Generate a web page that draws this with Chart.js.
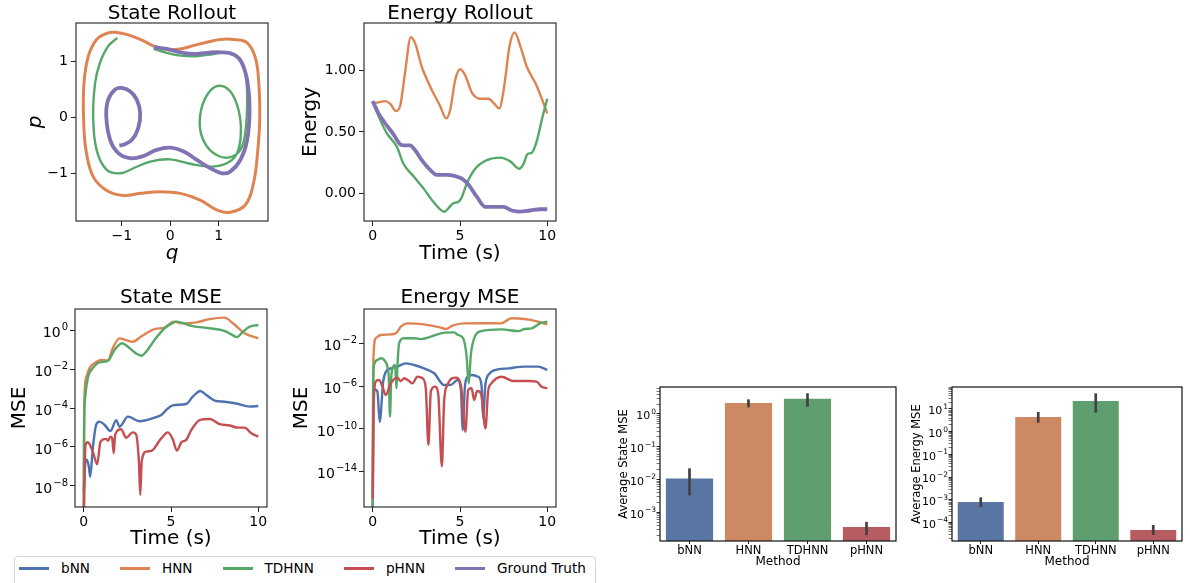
<!DOCTYPE html>
<html>
<head>
<meta charset="utf-8">
<script src="https://cdn.jsdelivr.net/npm/chart.js@4.4.1/dist/chart.umd.min.js"></script>
<style>
  body { margin: 0; width: 1190px; height: 583px; background: #fff; position: relative; overflow: hidden; font-family: "DejaVu Sans", sans-serif; }
  canvas { position: absolute; }
  #legend { position: absolute; left: 14px; top: 556px; width: 582px; height: 40px; box-sizing: border-box;
            border: 1px solid #d4d4d4; border-radius: 4px; background: rgba(255,255,255,0.8);
            display: flex; gap: 30px; padding: 3px 0 0 4px; font-size: 13.6px; color: #000; }
  .legendItem { display: flex; align-items: center; height: 17px; line-height: 17px; white-space: nowrap; }
  .legendLine { width: 30px; height: 2.2px; margin-right: 12px; }
</style>
</head>
<body>
<canvas id="stateRollout"></canvas>
<canvas id="energyRollout"></canvas>
<canvas id="stateMse"></canvas>
<canvas id="energyMse"></canvas>
<canvas id="avgStateMse"></canvas>
<canvas id="avgEnergyMse"></canvas>
<div id="legend"></div>
<script>
// ---- data ----
const methods = ["bNN", "HNN", "TDHNN", "pHNN"];
const legendLabels = ["bNN", "HNN", "TDHNN", "pHNN", "Ground Truth"];

// State Rollout (q, p)
const rollHnnQ = [-0.34,-0.07,0.21,0.48,0.76,1.03,1.31,1.59,1.76,1.83,1.85,1.81,1.72,1.55,1.24,0.97,0.62,0.21,-0.21,-0.62,-0.97,-1.31,-1.59,-1.74,-1.79,-1.78,-1.69,-1.52,-1.31,-1.14,-0.90,-0.62,-0.34];
const rollHnnP = [1.28,1.22,1.23,1.29,1.35,1.40,1.40,1.34,1.07,0.62,0.02,-0.58,-1.18,-1.57,-1.70,-1.66,-1.48,-1.36,-1.33,-1.36,-1.40,-1.31,-1.06,-0.58,0.02,0.62,1.10,1.40,1.51,1.53,1.49,1.40,1.28];
const rollTdhnnQ = [-0.34,-0.07,0.21,0.55,0.90,1.17,1.41,1.55,1.59,1.55,1.45,1.24,1.00,0.76,0.62,0.64,0.79,1.00,1.24,1.41,1.46,1.38,1.17,0.83,0.41,0.00,-0.41,-0.76,-1.03,-1.31,-1.52,-1.59,-1.55,-1.45,-1.28,-1.09];
const rollTdhnnP = [1.23,1.16,1.11,1.10,1.14,1.17,1.07,0.80,0.32,-0.28,-0.58,-0.71,-0.69,-0.52,-0.22,0.14,0.44,0.57,0.47,0.14,-0.28,-0.64,-0.82,-0.88,-0.83,-0.75,-0.79,-0.91,-1.00,-0.94,-0.58,0.02,0.62,0.98,1.28,1.43];
const rollTruthQ = [-0.34,-0.07,0.21,0.48,0.76,1.03,1.31,1.48,1.60,1.64,1.59,1.45,1.24,1.07,0.83,0.55,0.28,0.00,-0.28,-0.55,-0.83,-1.07,-1.24,-1.32,-1.28,-1.14,-1.00,-0.83,-0.69,-0.62,-0.66,-0.79,-0.97,-1.05];
const rollTruthP = [1.26,1.23,1.17,1.14,1.16,1.17,1.13,0.98,0.62,0.14,-0.40,-0.76,-0.97,-1.00,-0.91,-0.76,-0.61,-0.54,-0.58,-0.69,-0.73,-0.64,-0.40,0.02,0.32,0.50,0.53,0.47,0.32,0.08,-0.19,-0.40,-0.49,-0.50];

// Energy Rollout
const energyHnnT = [0,0.33,0.71,0.99,1.34,1.57,1.85,2.18,2.43,2.81,3.29,3.86,4.21,4.44,4.72,5.01,5.30,5.68,6.16,6.63,6.96,7.25,7.50,7.84,8.13,8.45,8.83,9.41,10];
const energyHnnE = [0.73,0.74,0.75,0.73,0.67,0.71,0.98,1.27,1.22,1.03,0.87,0.71,0.61,0.68,0.92,1.01,0.96,0.82,0.77,0.77,0.73,0.69,0.84,1.20,1.31,1.20,1.03,0.87,0.65];
const energyTdhnnT = [0,0.33,0.80,1.38,1.76,2.33,2.91,3.48,4.11,4.34,4.63,4.91,5.11,5.39,5.87,6.54,7.30,7.88,8.39,8.64,8.87,9.12,9.41,9.69,10];
const energyTdhnnE = [0.75,0.63,0.49,0.38,0.24,0.14,0.04,-0.07,-0.15,-0.12,-0.08,-0.07,-0.03,0.08,0.20,0.27,0.29,0.26,0.20,0.24,0.32,0.33,0.43,0.60,0.77];
const energyTruthT = [0,0.33,0.71,1.19,1.57,1.85,2.14,2.43,2.81,3.29,3.67,4.24,4.72,5.11,5.49,5.97,6.44,7.02,7.50,7.97,8.45,9.02,9.60,10];
const energyTruthE = [0.75,0.65,0.57,0.48,0.40,0.39,0.39,0.35,0.27,0.19,0.15,0.15,0.14,0.12,0.07,-0.03,-0.11,-0.11,-0.11,-0.14,-0.15,-0.14,-0.13,-0.13];

// State MSE
const smseBnnT = [0,0.1,0.18,0.29,0.37,0.52,0.71,0.9,1.2,1.53,1.86,2.05,2.53,3.2,4.06,4.44,4.82,5.16,5.87,6.25,6.68,7.02,7.5,8.07,8.74,9.51,10];
const smseBnnY = [5e-9,1.8e-7,2.2e-7,1.0e-7,3.0e-8,8.5e-7,1.35e-5,2.0e-5,1.35e-5,6.6e-6,2.4e-5,1.1e-5,3.6e-5,2.1e-5,3.2e-5,4.4e-5,9.5e-5,1.4e-4,1.6e-4,3.8e-4,7.4e-4,4.6e-4,2.4e-4,2.1e-4,1.7e-4,1.17e-4,1.26e-4];
const smseHnnT = [0,0.03,0.13,0.33,0.61,1.0,1.38,1.66,2.05,2.43,2.81,3.29,4.06,4.63,5.16,5.68,6.45,7.21,8.07,8.55,9.22,10];
const smseHnnY = [1e-10,1.4e-4,3.3e-3,0.011,0.0195,0.029,0.027,0.115,0.37,0.30,0.25,0.46,1.12,1.32,2.7,2.19,2.45,3.6,4.3,2.2,0.68,0.37];
const smseTdhnnT = [0,0.02,0.08,0.23,0.52,0.9,1.38,1.76,2.2,2.53,3.0,3.29,3.58,4.06,4.63,5.16,5.3,6.25,7.21,8.07,8.46,8.78,9.12,9.51,10];
const smseTdhnnY = [1e-10,6.3e-6,3.2e-4,3.3e-3,0.011,0.022,0.026,0.093,0.21,0.14,0.063,0.048,0.078,0.31,1.23,2.45,2.7,1.58,1.23,0.89,0.6,0.43,0.81,1.48,1.8];
const smsePhnnT = [0,0.1,0.23,0.52,0.77,0.96,1.28,1.4,1.53,1.63,1.72,1.8,2.14,2.43,2.81,3.0,3.16,3.24,3.32,3.58,3.87,4.44,4.82,5.1,5.34,5.59,5.87,6.16,6.64,7.21,7.79,8.36,8.84,9.22,9.6,10];
const smsePhnnY = [1e-10,1.26e-6,1.74e-6,5.8e-7,1.3e-7,1.86e-6,2.6e-6,2.1e-6,3.4e-6,2.8e-6,4.8e-7,4.2e-6,8.1e-6,3.0e-6,5.6e-6,4.5e-6,1.8e-7,3.5e-9,1.8e-7,5.8e-7,6.3e-7,2.75e-6,5.6e-6,2.5e-6,6.5e-7,1.74e-6,2.3e-6,7.4e-6,2.4e-5,2.75e-5,1.5e-5,1.26e-5,9.8e-6,9.8e-6,5.0e-6,3.4e-6];

// Energy MSE
const emseBnnT = [0,0.05,0.17,0.27,0.4,0.6,0.75,1.03,1.41,1.89,2.36,2.94,3.52,4.09,4.47,4.86,5.05,5.16,5.27,5.37,5.66,6.04,6.23,6.33,6.45,6.71,7.0,7.76,8.72,9.48,10];
const emseBnnY = [1e-18,6.3e-7,4.4e-7,3e-7,4.7e-10,2.6e-6,2.2e-5,4.6e-5,6.6e-5,1.35e-4,9.5e-5,4.6e-5,1.6e-5,1.26e-6,1.3e-6,3.7e-6,5e-7,8e-11,5e-7,5.4e-6,1.1e-5,7.6e-6,1.26e-6,1e-9,1.26e-6,1.6e-5,3.2e-5,4.6e-5,6.6e-5,6.6e-5,3.2e-5];
const emseHnnT = [0,0.04,0.17,0.46,0.8,1.32,1.61,1.99,2.94,3.9,4.19,4.57,5.24,6.2,7.36,7.95,8.34,9.1,10];
const emseHnnY = [1e-18,4.0e-4,0.03,0.06,0.065,0.085,0.36,0.74,0.6,0.29,0.22,0.45,0.74,0.76,0.74,2.2,2.1,1.5,0.6];
const emseTdhnnT = [0,0.02,0.07,0.26,0.5,0.65,0.84,0.92,0.99,1.06,1.18,1.28,1.36,1.42,1.51,1.8,2.37,2.75,3.33,4.09,4.66,4.89,5.18,5.37,5.5,5.62,5.85,6.23,7.38,8.34,8.72,9.1,9.58,10];
const emseTdhnnY = [1e-18,6.3e-7,9.3e-5,2.75e-4,4.0e-4,2.75e-4,6.6e-5,6.3e-6,1.4e-9,6.3e-6,6.6e-5,9.3e-5,6.3e-7,1e-4,0.01,0.03,0.03,0.025,0.042,0.1,0.107,0.06,0.03,8.1e-4,1.8e-6,8.1e-4,0.042,0.14,0.2,0.14,0.22,0.25,0.74,1.05];
const emsePhnnT = [0,0.05,0.17,0.36,0.55,0.74,1.03,1.41,1.6,1.8,2.08,2.27,2.56,2.85,3.04,3.19,3.33,3.56,3.75,3.96,4.09,4.28,4.76,5.05,5.31,5.47,5.66,5.81,5.98,6.2,6.46,6.61,6.8,7.38,8.05,8.91,9.39,9.67,10];
const emsePhnnY = [3.2e-17,1e-8,2.6e-6,3.7e-6,1.0e-6,1.5e-7,1.8e-6,6.2e-6,3.0e-6,5.4e-6,3.0e-6,1.8e-6,7.6e-6,5.4e-6,6.2e-7,3.2e-12,3.2e-7,8.9e-7,2.1e-7,3.2e-14,3.5e-8,1.26e-6,6.2e-6,1.26e-6,5.5e-11,4.4e-7,6.3e-7,5e-8,3.5e-7,2.1e-7,1.15e-10,3.2e-7,1.8e-6,7.6e-6,3.0e-6,3.0e-6,2.6e-6,8.9e-7,6.3e-7];

// bar charts (mean and error bar ends)
const avgStateMse = [0.0107, 2.17, 2.9, 3.55e-4];
const avgStateLo  = [0.0033, 1.6, 1.67, 2.0e-4];
const avgStateHi  = [0.022, 2.8, 4.3, 5.1e-4];
const avgEnergyMse = [8.2e-4, 4.45, 22.5, 4.8e-5];
const avgEnergyLo  = [4.9e-4, 2.5, 6.9, 2.9e-5];
const avgEnergyHi  = [1.3e-3, 7.4, 49, 7.9e-5];

// ---- styles ----
const lineColors = { "bNN": "#4c72b0", "HNN": "#dd8452", "TDHNN": "#55a868", "pHNN": "#c44e52", "Ground Truth": "#8172b3" };
const barColors = ["#5975a4", "#cc8963", "#5f9e6e", "#b55d60"];
const FONT = '"DejaVu Sans", sans-serif';

Chart.defaults.font.family = FONT;
Chart.defaults.color = "#000";

function isPow10(v) { const e = Math.log10(v); return Math.abs(e - Math.round(e)) < 1e-6; }
const minus = v => (v < 0 ? "\u2212" : "") + Math.abs(v);

function pts(xs, ys) { return xs.map((x, i) => ({ x: x, y: ys[i] })); }

// lower order is drawn on top (Ground Truth plotted last in the original)
const drawOrder = { "bNN": 4, "HNN": 3, "TDHNN": 2, "pHNN": 1, "Ground Truth": 0 };
function series(label, xs, ys, width, mode) {
  return {
    label: label, data: pts(xs, ys), borderColor: lineColors[label], borderWidth: width,
    pointRadius: 0, fill: false, order: drawOrder[label],
    cubicInterpolationMode: mode || "monotone", tension: 0.4
  };
}

// frame around the plot area
const frame = {
  id: "frame",
  afterDraw(chart) {
    const { ctx, chartArea: a } = chart;
    ctx.save();
    ctx.strokeStyle = chart.config.options.frameColor || "#333";
    ctx.lineWidth = 1.2;
    ctx.strokeRect(a.left, a.top, a.right - a.left, a.bottom - a.top);
    ctx.restore();
  }
};

// 10^n tick labels with a raised, smaller exponent (like mathtext)
const powLabels = {
  id: "powLabels",
  afterDraw(chart, args, o) {
    if (!o.size) return;
    const s = chart.scales.y;
    const ctx = chart.ctx;
    ctx.save();
    ctx.fillStyle = "#000";
    ctx.textBaseline = "alphabetic";
    ctx.textAlign = "left";
    s.ticks.forEach(t => {
      if (!isPow10(t.value)) return;
      const e = Math.round(Math.log10(t.value));
      const ex = (e < 0 ? "\u2212" : "") + Math.abs(e);
      const y = s.getPixelForValue(t.value);
      ctx.font = o.size + "px " + FONT;
      const wb = ctx.measureText("10").width;
      ctx.font = o.sub + "px " + FONT;
      const we = ctx.measureText(ex).width;
      const x0 = s.right - o.gap - wb - we - 1;
      const base = y + o.size * 0.48;
      ctx.font = o.size + "px " + FONT;
      ctx.fillText("10", x0, base);
      ctx.font = o.sub + "px " + FONT;
      ctx.fillText(ex, x0 + wb + 1, base - o.size * 0.5);
    });
    ctx.restore();
  }
};

// error bars drawn through the y scale
const errorBars = {
  id: "errorBars",
  afterDatasetsDraw(chart, args, opts) {
    if (!opts.lo) return;
    const { ctx } = chart;
    const y = chart.scales.y;
    const meta = chart.getDatasetMeta(0);
    ctx.save();
    ctx.strokeStyle = "#424242";
    ctx.lineWidth = 2.7;
    meta.data.forEach((bar, i) => {
      ctx.beginPath();
      ctx.moveTo(bar.x, y.getPixelForValue(opts.lo[i]));
      ctx.lineTo(bar.x, y.getPixelForValue(opts.hi[i]));
      ctx.stroke();
    });
    ctx.restore();
  }
};

// place the canvas so that the plot area lands on box.l/t/r/b
function place(id, box) {
  const c = document.getElementById(id);
  c.width = box.r - box.l + box.yw + box.rp;
  c.height = box.b - box.t + box.th + box.xh;
  c.style.left = (box.l - box.yw) + "px";
  c.style.top = (box.t - box.th) + "px";
  return c.getContext("2d");
}

function axis(kind, box, o) {
  const a = {
    type: o.type,
    bounds: "data",
    grid: {
      display: true, drawOnChartArea: false, drawTicks: true, offset: false,
      tickLength: o.tickLen, tickColor: "#222",
      tickWidth: ctx => (o.minor && ctx.tick && !isPow10(ctx.tick.value)) ? 0.6 : 1
    },
    border: { display: false },
    ticks: { autoSkip: false, maxRotation: 0, minRotation: 0, padding: o.pad, color: "#000", font: { size: o.fs } },
    title: { display: true, text: o.title, color: "#000", font: { size: o.tfs, lineHeight: 1, style: o.italic ? "italic" : "normal" }, padding: { top: 0, bottom: 0 } },
    afterFit: kind === "x"
      ? s => { s.height = box.xh; s.paddingLeft = 0; s.paddingRight = 0; }
      : s => { s.width = box.yw; s.paddingTop = 0; s.paddingBottom = 0; }
  };
  if (o.min !== undefined) { a.min = o.min; a.max = o.max; }
  if (o.fmt) a.ticks.callback = o.fmt;
  if (o.ticks) a.afterBuildTicks = s => { s.ticks = o.ticks.map(v => ({ value: v })); };
  return a;
}

function logTicks(lo, hi, withMinor) {
  const out = [];
  for (let e = Math.floor(lo); e <= Math.ceil(hi); e++) {
    for (let m = 1; m <= (withMinor ? 9 : 1); m++) {
      const v = m * Math.pow(10, e);
      if (Math.log10(v) >= lo && Math.log10(v) <= hi) out.push(v);
    }
  }
  return out;
}

function lineChart(id, box, title, datasets, xo, yo, pow) {
  return new Chart(place(id, box), {
    type: "line",
    data: { datasets: datasets },
    options: {
      responsive: false, animation: false, frameColor: "#333",
      layout: { padding: { left: 0, top: 0, right: box.rp, bottom: 0 } },
      plugins: {
        legend: { display: false }, tooltip: { enabled: false },
        title: { display: true, text: title, fullSize: false, color: "#000", font: { size: 20, lineHeight: box.tlh, weight: "normal" }, padding: box.tpad },
        powLabels: pow || {}
      },
      scales: { x: axis("x", box, xo), y: axis("y", box, yo) }
    },
    plugins: [frame, powLabels]
  });
}

function barChart(id, box, yTitle, values, lo, hi, yLog) {
  return new Chart(place(id, box), {
    type: "bar",
    data: { labels: methods, datasets: [{ data: values, backgroundColor: barColors, barPercentage: 0.8, categoryPercentage: 1, borderWidth: 0 }] },
    options: {
      responsive: false, animation: false, frameColor: "#111",
      layout: { padding: { left: 0, top: box.th, right: box.rp, bottom: 0 } },
      plugins: {
        legend: { display: false }, tooltip: { enabled: false },
        errorBars: { lo: lo, hi: hi },
        powLabels: { size: 11, sub: 7.5, gap: 4 }
      },
      scales: {
        x: axis("x", box, { type: "category", tickLen: 3, pad: 0, fs: 11.5, title: "Method", tfs: 12 }),
        y: axis("y", box, { type: "logarithmic", min: Math.pow(10, yLog[0]), max: Math.pow(10, yLog[1]), ticks: logTicks(yLog[0], yLog[1], true), minor: true, fmt: () => "", tickLen: 3.5, pad: 2.5, fs: 11, title: yTitle, tfs: 11.5 })
      }
    },
    plugins: [frame, errorBars, powLabels]
  });
}

const timeAxis = () => ({ type: "linear", min: -0.5, max: 10.5, ticks: [0, 5, 10], fmt: v => String(v), tickLen: 5, pad: 1.5, fs: 14, title: "Time (s)", tfs: 20 });
const topRow = { th: 21, tlh: 0.95, tpad: { top: 2, bottom: 0 }, xh: 43, rp: 15 };
const bottomRow = { th: 21, tlh: 1, tpad: { top: 0, bottom: 1 }, xh: 42, rp: 15 };
const mseLabels = { size: 14, sub: 10, gap: 7 };

// State Rollout
lineChart("stateRollout", Object.assign({ l: 76, t: 23, r: 268, b: 221, yw: 50 }, topRow), "State Rollout",
  [series("HNN", rollHnnQ, rollHnnP, 3, "default"),
   series("TDHNN", rollTdhnnQ, rollTdhnnP, 2.4, "default"),
   series("Ground Truth", rollTruthQ, rollTruthP, 3.8, "default")],
  { type: "linear", min: -1.945, max: 2.02, ticks: [-1, 0, 1], fmt: minus, tickLen: 5, pad: 1.5, fs: 14, title: "q", italic: true, tfs: 20 },
  { type: "linear", min: -1.856, max: 1.695, ticks: [-1, 0, 1], fmt: minus, tickLen: 5, pad: 3, fs: 14, title: "p", italic: true, tfs: 20 });

// Energy Rollout
lineChart("energyRollout", Object.assign({ l: 364, t: 23, r: 556, b: 221, yw: 63 }, topRow), "Energy Rollout",
  [series("HNN", energyHnnT, energyHnnE, 2.4),
   series("TDHNN", energyTdhnnT, energyTdhnnE, 2.4),
   series("Ground Truth", energyTruthT, energyTruthE, 3.8)],
  timeAxis(),
  { type: "linear", min: -0.2255, max: 1.386, ticks: [0, 0.5, 1], fmt: v => (v < 0 ? "\u2212" : "") + Math.abs(v).toFixed(2), tickLen: 5, pad: 3, fs: 14, title: "Energy", tfs: 20 });

// State MSE
lineChart("stateMse", Object.assign({ l: 75, t: 309, r: 267, b: 507, yw: 65 }, bottomRow), "State MSE",
  [series("bNN", smseBnnT, smseBnnY, 2.4),
   series("HNN", smseHnnT, smseHnnY, 2.4),
   series("TDHNN", smseTdhnnT, smseTdhnnY, 2.4),
   series("pHNN", smsePhnnT, smsePhnnY, 2.4)],
  timeAxis(),
  { type: "logarithmic", min: Math.pow(10, -9.077), max: Math.pow(10, 1.077), ticks: [1e-8, 1e-6, 1e-4, 1e-2, 1], fmt: () => "", tickLen: 5, pad: 2, fs: 14, title: "MSE", tfs: 20 },
  mseLabels);

// Energy MSE
lineChart("energyMse", Object.assign({ l: 364, t: 309, r: 556, b: 507, yw: 72 }, bottomRow), "Energy MSE",
  [series("bNN", emseBnnT, emseBnnY, 2.4),
   series("HNN", emseHnnT, emseHnnY, 2.4),
   series("TDHNN", emseTdhnnT, emseTdhnnY, 2.4),
   series("pHNN", emsePhnnT, emsePhnnY, 2.4)],
  timeAxis(),
  { type: "logarithmic", min: Math.pow(10, -17.3), max: Math.pow(10, 1.21), ticks: [1e-14, 1e-10, 1e-6, 1e-2], fmt: () => "", tickLen: 5, pad: 2, fs: 14, title: "MSE", tfs: 20 },
  mseLabels);

// bar charts
barChart("avgStateMse", { l: 660, t: 387, r: 896, b: 541, yw: 42, th: 6, xh: 27, rp: 10 }, "Average State MSE",
  avgStateMse, avgStateLo, avgStateHi, [-3.876, 0.824]);
barChart("avgEnergyMse", { l: 952, t: 387, r: 1182, b: 541, yw: 41, th: 6, xh: 27, rp: 8 }, "Average Energy MSE",
  avgEnergyMse, avgEnergyLo, avgEnergyHi, [-4.805, 1.967]);

// legend (shared)
const legendBox = document.getElementById("legend");
for (let i = 0; i < legendLabels.length; i++) {
  const item = document.createElement("div");
  item.className = "legendItem";
  item.innerHTML = `<span class="legendLine" style="background-color:${lineColors[legendLabels[i]]};"></span><span>${legendLabels[i]}</span>`;
  legendBox.appendChild(item);
}
</script>
</body>
</html>
